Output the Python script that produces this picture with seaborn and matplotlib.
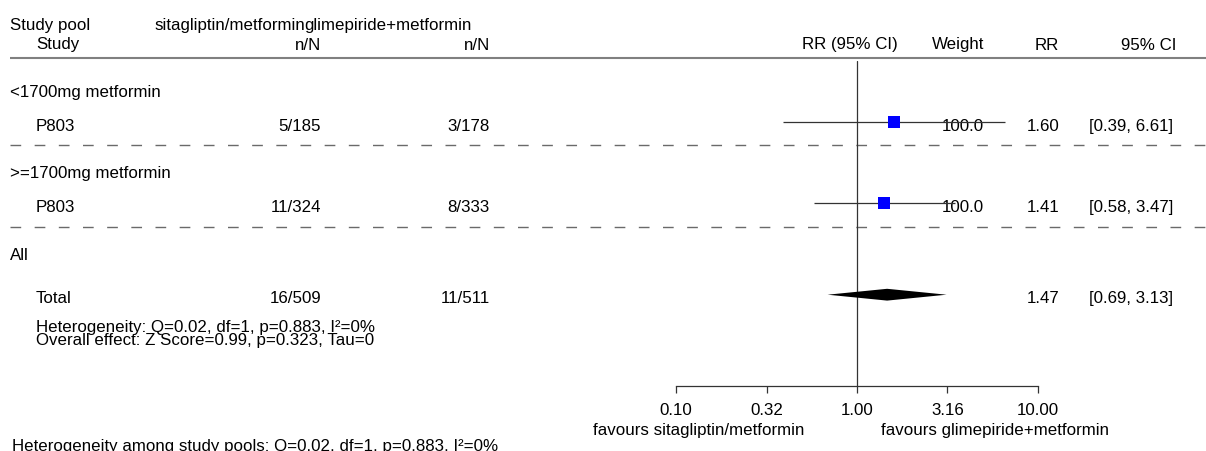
import matplotlib
matplotlib.use("Agg")
import matplotlib.pyplot as plt
from matplotlib import font_manager
from matplotlib.ticker import NullLocator, FixedLocator, FixedFormatter
import seaborn as sns

# ---------------- data ----------------
subgroups = ["<1700mg metformin", ">=1700mg metformin"]
studies = ["P803", "P803"]
sita_events = [5, 11]
sita_total = [185, 324]
glim_events = [3, 8]
glim_total = [178, 333]
rr = [1.60, 1.41]
rr_lo = [0.39, 0.58]
rr_hi = [6.61, 3.47]
weights = [100.0, 100.0]

total_label = "Total"
total_sita = (16, 509)
total_glim = (11, 511)
total_rr = 1.47
total_lo = 0.69
total_hi = 3.13

het_text = "Heterogeneity: Q=0.02, df=1, p=0.883, I\u00b2=0%"
overall_text = "Overall effect: Z Score=0.99, p=0.323, Tau=0"
pool_het_text = "Heterogeneity among study pools: Q=0.02, df=1, p=0.883, I\u00b2=0%"

ticks = [0.10, 0.32, 1.00, 3.16, 10.00]
tick_labels = ["0.10", "0.32", "1.00", "3.16", "10.00"]
left_favours = "favours sitagliptin/metformin"
right_favours = "favours glimepiride+metformin"
arm1 = "sitagliptin/metformin"
arm2 = "glimepiride+metformin"

# ---------------- style ----------------
sns.set_style("white")
names = {f.name for f in font_manager.fontManager.ttflist}
if "Liberation Sans Narrow" in names:
    FAM, FS = "Liberation Sans Narrow", 14.8
else:
    FAM, FS = "Liberation Sans", 12.2
plt.rcParams["font.family"] = [FAM, "DejaVu Sans"]
plt.rcParams["lines.scale_dashes"] = False

W, H = 1206, 452
fig = plt.figure(figsize=(W / 100, H / 100), dpi=100)

# layout axes (pixel coordinates)
bg = fig.add_axes([0, 0, 1, 1])
bg.set_xlim(0, W)
bg.set_ylim(H, 0)
bg.axis("off")

# layout constants
X_POOL, X_STUDY = 10, 36
X_N1, X_N2 = 321, 490
X_RRCI, X_W, X_RR, X_CI_H, X_CI = 898, 984, 1059, 1176, 1173
Y_H1, Y_H2 = 30, 49.5
Y_SUB = [97, 178]
Y_STUDY_TXT = [131, 212]
Y_STUDY_MARK = [123.3, 204.3]
Y_ALL, Y_TOTAL_TXT, Y_TOTAL_MARK = 260, 303, 295.7
Y_HET, Y_OVR = 332, 345
Y_DASH = [146, 228.3]
Y_HLINE = 58.8
AX_TOP, AX_BOT = 61.7, 387.3
AX_L, AX_R = 675.7, 1037.9

txt = dict(fontsize=FS, va="baseline", color="black")

# header
bg.text(X_POOL, Y_H1, "Study pool", ha="left", **txt)
bg.text(305, Y_H1, arm1, ha="right", **txt)
bg.text(304, Y_H1, arm2, ha="left", **txt)
bg.text(X_STUDY, Y_H2, "Study", ha="left", **txt)
bg.text(X_N1, Y_H2, "n/N", ha="right", **txt)
bg.text(X_N2, Y_H2, "n/N", ha="right", **txt)
bg.text(X_RRCI, Y_H2, "RR (95% CI)", ha="right", **txt)
bg.text(X_W, Y_H2, "Weight", ha="right", **txt)
bg.text(X_RR, Y_H2, "RR", ha="right", **txt)
bg.text(X_CI_H, Y_H2, "95% CI", ha="right", **txt)
bg.plot([X_POOL, W], [Y_HLINE, Y_HLINE], color="#808080", lw=1.5, solid_capstyle="butt")

# study rows
for i in range(len(studies)):
    bg.text(X_POOL, Y_SUB[i], subgroups[i], ha="left", **txt)
    bg.text(X_STUDY, Y_STUDY_TXT[i], studies[i], ha="left", **txt)
    bg.text(X_N1, Y_STUDY_TXT[i], f"{sita_events[i]}/{sita_total[i]}", ha="right", **txt)
    bg.text(X_N2, Y_STUDY_TXT[i], f"{glim_events[i]}/{glim_total[i]}", ha="right", **txt)
    bg.text(X_W, Y_STUDY_TXT[i], f"{weights[i]:.1f}", ha="right", **txt)
    bg.text(X_RR, Y_STUDY_TXT[i], f"{rr[i]:.2f}", ha="right", **txt)
    bg.text(X_CI, Y_STUDY_TXT[i], f"[{rr_lo[i]:.2f}, {rr_hi[i]:.2f}]", ha="right", **txt)

bg.hlines(Y_DASH, X_POOL, W, colors="#6a6a6a", lw=1.0, linestyles=(0, (7.7, 9.7)))

# overall
bg.text(X_POOL, Y_ALL, "All", ha="left", **txt)
bg.text(X_STUDY, Y_TOTAL_TXT, total_label, ha="left", **txt)
bg.text(X_N1, Y_TOTAL_TXT, f"{total_sita[0]}/{total_sita[1]}", ha="right", **txt)
bg.text(X_N2, Y_TOTAL_TXT, f"{total_glim[0]}/{total_glim[1]}", ha="right", **txt)
bg.text(X_RR, Y_TOTAL_TXT, f"{total_rr:.2f}", ha="right", **txt)
bg.text(X_CI, Y_TOTAL_TXT, f"[{total_lo:.2f}, {total_hi:.2f}]", ha="right", **txt)
bg.text(X_STUDY, Y_HET, het_text, ha="left", **txt)
bg.text(X_STUDY, Y_OVR, overall_text, ha="left", **txt)
bg.text(12, 451, pool_het_text, ha="left", **txt)

bg.text(804, 435, left_favours, ha="right", **txt)
bg.text(881, 435, right_favours, ha="left", **txt)

# ---------------- forest axes ----------------
fx = fig.add_axes([AX_L / W, 1 - AX_BOT / H, (AX_R - AX_L) / W, (AX_BOT - AX_TOP) / H])
fx.patch.set_alpha(0)

fx.hlines(Y_STUDY_MARK, rr_lo, rr_hi, color="#333333", lw=0.9, zorder=2)
sns.scatterplot(x=rr, y=Y_STUDY_MARK, marker="s", s=78, color="#0000ff",
                edgecolor="#0000ff", linewidth=0, ax=fx, zorder=3, legend=False)
dh = 5.9
fx.fill([total_lo, total_rr, total_hi, total_rr],
        [Y_TOTAL_MARK, Y_TOTAL_MARK - dh, Y_TOTAL_MARK, Y_TOTAL_MARK + dh],
        color="black", lw=0, zorder=3)
fx.axvline(1.0, color="#333333", lw=0.9, zorder=1)

fx.set_xscale("log")
fx.set_xlim(ticks[0], ticks[-1])
fx.set_ylim(AX_BOT, AX_TOP)
fx.xaxis.set_major_locator(FixedLocator(ticks))
fx.xaxis.set_major_formatter(FixedFormatter(tick_labels))
fx.xaxis.set_minor_locator(NullLocator())
fx.set_yticks([])
fx.set_xlabel("")
fx.set_ylabel("")
for s in ["left", "right", "top"]:
    fx.spines[s].set_visible(False)
fx.spines["bottom"].set_color("#333333")
fx.spines["bottom"].set_linewidth(0.9)
fx.tick_params(axis="x", bottom=True, direction="out", length=5, width=0.9, color="#333333",
               pad=6, labelsize=FS, labelcolor="black")

fig.savefig("out.png", dpi=100)
